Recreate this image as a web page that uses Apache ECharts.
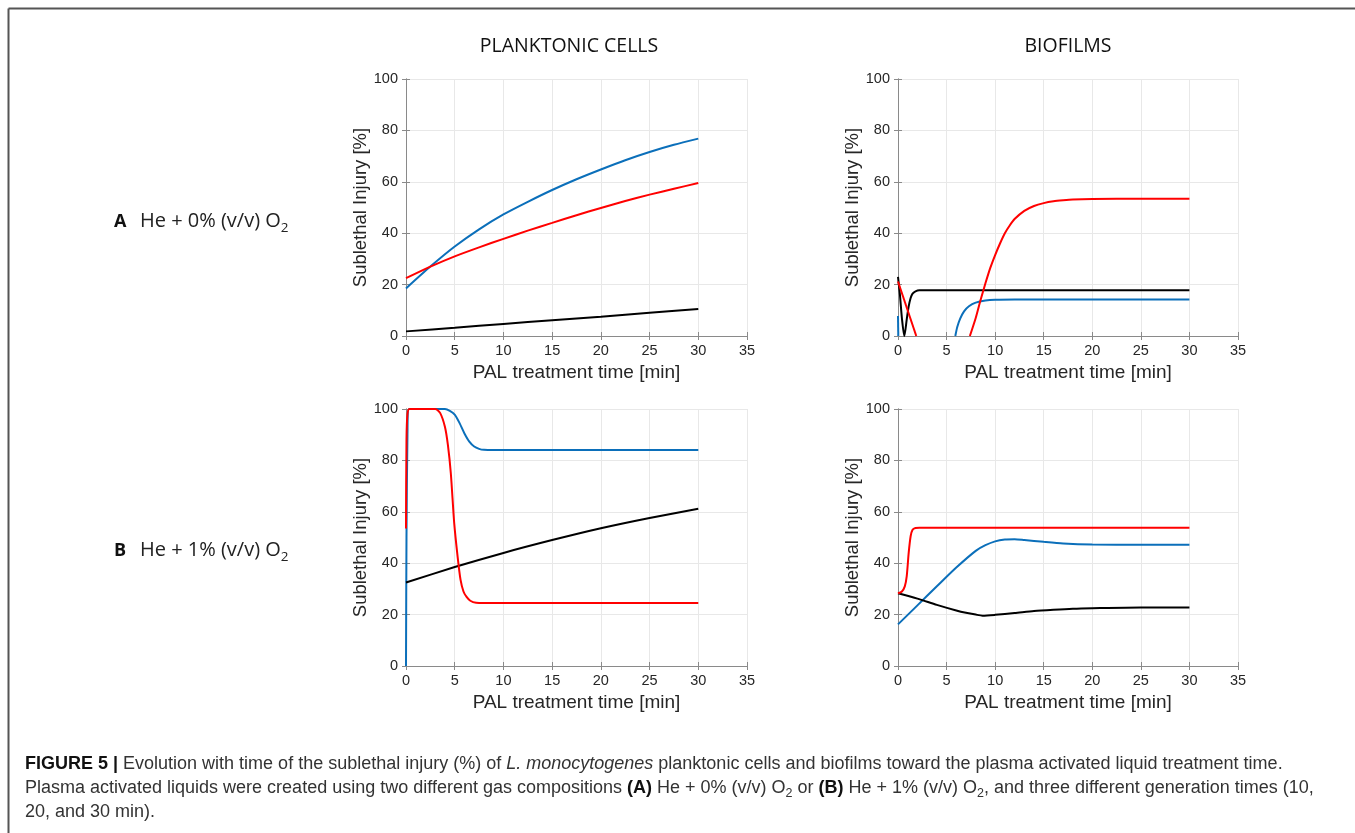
<!DOCTYPE html>
<html>
<head>
<meta charset="utf-8">
<script src="https://cdn.jsdelivr.net/npm/echarts@6.0.0/dist/echarts.min.js"></script>
<style>
  html, body { margin: 0; padding: 0; background: #fff; }
  #chart { width: 1355px; height: 833px; }
</style>
</head>
<body>
<div id="chart"></div>
<script>
// axis ticks
const timeTicks = [0, 5, 10, 15, 20, 25, 30, 35]
const injuryTicks = [0, 20, 40, 60, 80, 100]

// A: He + 0% O2, planktonic cells  ([time, injury])
const tlBlue = [[0, 18.5], [2.5, 27], [5, 34.8], [7.5, 41.5], [10, 47.3], [12.5, 52.2], [15, 56.8], [17.5, 61], [20, 64.8], [22.5, 68.4], [25, 71.6], [27.5, 74.4], [30, 76.8]]
const tlRed = [[0, 22.5], [2.5, 27], [5, 31], [7.5, 34.5], [10, 37.8], [12.5, 41], [15, 44], [17.5, 47], [20, 49.8], [22.5, 52.5], [25, 55], [27.5, 57.3], [30, 59.5]]
const tlBlack = [[0, 1.8], [5, 3.2], [10, 4.7], [15, 6.1], [20, 7.5], [25, 9], [30, 10.5]]

// A: He + 0% O2, biofilms
const trBlueEarly = [[0, 7.8], [0.03, 0]]
const trBlueLate = [[5.9, 0], [6.1, 3.5], [6.4, 6.8], [6.8, 9.6], [7.3, 11.6], [8, 13], [9, 13.8], [10, 14.1], [12, 14.2], [30, 14.2]]
const trRedEarly = [[0, 21.2], [1.88, 0]]
const trRedLate = [[7.4, 0], [8, 7], [8.5, 14], [9, 20.5], [9.5, 26.5], [10, 31.5], [10.5, 36], [11, 40], [11.5, 43], [12, 45.5], [13, 48.7], [14, 50.6], [15, 51.7], [16, 52.4], [17, 52.8], [18, 53.1], [20, 53.3], [25, 53.4], [30, 53.4]]
const trBlack = [[0, 23], [0.2, 16], [0.4, 7], [0.65, 0], [0.9, 6.5], [1.1, 11.5], [1.3, 14.8], [1.5, 16.5], [1.8, 17.4], [2.2, 17.8], [30, 17.8]]

// B: He + 1% O2, planktonic cells
const blBlue = [[0, 0], [0.05, 50], [0.15, 90], [0.3, 100], [4, 100], [4.5, 99.3], [5, 97.8], [5.5, 94.5], [6, 90.5], [6.5, 87.3], [7, 85.4], [7.5, 84.5], [8, 84.1], [9, 84], [30, 84]]
const blRed = [[0, 53.5], [0.05, 88], [0.15, 98], [0.35, 100], [3, 100], [3.5, 98.5], [4, 93], [4.3, 86], [4.6, 75], [4.95, 55.5], [5.3, 42.5], [5.6, 33.5], [5.9, 29], [6.2, 27], [6.6, 25.4], [7.2, 24.6], [8, 24.5], [30, 24.5]]
const blBlack = [[0, 32.5], [5, 38.5], [10, 44], [15, 49], [20, 53.6], [25, 57.6], [30, 61.2]]

// B: He + 1% O2, biofilms
const brBlue = [[0, 16.2], [2, 23.6], [4, 31], [6, 38.3], [8, 44.8], [9, 47], [10, 48.5], [11, 49.2], [12, 49.3], [13, 49], [15, 48.3], [17, 47.7], [20, 47.3], [25, 47.2], [30, 47.2]]
const brRed = [[0, 28.3], [0.4, 29], [0.7, 31], [0.9, 35], [1.1, 44], [1.3, 50.5], [1.5, 53], [1.8, 53.7], [2.2, 53.8], [30, 53.8]]
const brBlack = [[0, 28.3], [2, 26.2], [4, 23.8], [6, 21.6], [7, 20.7], [8, 20], [8.7, 19.6], [10, 19.9], [12, 20.6], [14, 21.4], [16, 21.9], [18, 22.3], [20, 22.5], [25, 22.8], [30, 22.8]]

const BLUE = '#0b6fba'
const RED = '#ff0000'
const BLACK = '#000000'
const AXIS = '#8a8a8a'
const TEXT = '#262626'

const chart = echarts.init(document.getElementById('chart'))

// plot boxes (top-left, top-right, bottom-left, bottom-right)
const grids = [
  { left: 406, top: 79, width: 341, height: 257 },
  { left: 898, top: 79, width: 340, height: 257 },
  { left: 406, top: 409, width: 341, height: 257 },
  { left: 898, top: 409, width: 340, height: 257 }
]

const xAxes = []
const yAxes = []
grids.forEach((g, i) => {
  const step = timeTicks[1] - timeTicks[0]
  xAxes.push({
    type: 'value', gridIndex: i, position: 'bottom',
    min: timeTicks[0], max: timeTicks[timeTicks.length - 1], interval: step,
    name: 'PAL treatment time [min]', nameLocation: 'middle', nameGap: 27,
    nameTextStyle: { color: TEXT, fontSize: 19, fontFamily: 'Liberation Sans' },
    axisLine: { lineStyle: { color: AXIS, width: 1 } },
    axisTick: { inside: true, length: 4, lineStyle: { color: AXIS } },
    axisLabel: { color: TEXT, fontSize: 14.5, margin: 7, fontFamily: 'Liberation Sans' },
    splitLine: { show: true, lineStyle: { color: '#e8e8e8', width: 1 } }
  })
  xAxes.push({
    type: 'value', gridIndex: i, position: 'top',
    min: timeTicks[0], max: timeTicks[timeTicks.length - 1], interval: step,
    axisLine: { lineStyle: { color: AXIS, width: 1 } },
    axisTick: { inside: true, length: 4, lineStyle: { color: AXIS } },
    axisLabel: { show: false },
    splitLine: { show: false }
  })
  const ystep = injuryTicks[1] - injuryTicks[0]
  yAxes.push({
    type: 'value', gridIndex: i, position: 'left',
    min: injuryTicks[0], max: injuryTicks[injuryTicks.length - 1], interval: ystep,
    name: 'Sublethal Injury [%]', nameLocation: 'middle', nameGap: 35,
    nameTextStyle: { color: TEXT, fontSize: 18.5, fontFamily: 'Liberation Sans' },
    axisLine: { show: true, lineStyle: { color: AXIS, width: 1 } },
    axisTick: { show: true, inside: true, length: 4, lineStyle: { color: AXIS } },
    axisLabel: { color: TEXT, fontSize: 14.5, margin: 8, fontFamily: 'Liberation Sans' },
    splitLine: { show: true, lineStyle: { color: '#e8e8e8', width: 1 } }
  })
  yAxes.push({
    type: 'value', gridIndex: i, position: 'right',
    min: injuryTicks[0], max: injuryTicks[injuryTicks.length - 1], interval: ystep,
    axisLine: { show: true, lineStyle: { color: AXIS, width: 1 } },
    axisTick: { show: true, inside: true, length: 4, lineStyle: { color: AXIS } },
    axisLabel: { show: false },
    splitLine: { show: false }
  })
})

const line = (panel, data, color) => ({
  type: 'line',
  xAxisIndex: panel * 2,
  yAxisIndex: panel * 2,
  data,
  showSymbol: false,
  smooth: 0.25,
  lineStyle: { color, width: 2 },
  itemStyle: { color },
  silent: true
})

const series = [
  line(0, tlBlue, BLUE), line(0, tlBlack, BLACK), line(0, tlRed, RED),
  line(1, trBlueEarly, BLUE), line(1, trBlueLate, BLUE), line(1, trBlack, BLACK),
  line(1, trRedEarly, RED), line(1, trRedLate, RED),
  line(2, blBlue, BLUE), line(2, blBlack, BLACK), line(2, blRed, RED),
  line(3, brBlue, BLUE), line(3, brBlack, BLACK), line(3, brRed, RED)
]

const labelFont = 'Open Sans'
const capFont = 'Liberation Sans'

// row label: bold panel letter, then gas composition with subscript 2
const rowLabel = (letter, text, y) => [
  { type: 'text', x: 114, y, style: { text: letter, fontFamily: labelFont, fontSize: 18, fontWeight: 'bold', fill: '#111', verticalAlign: 'middle' } },
  {
    type: 'text', x: 140, y: y - 14,
    style: {
      text: `{t|${text}}{s|2}`,
      rich: {
        t: { fontFamily: labelFont, fontSize: 20, fill: '#222', lineHeight: 27 },
        s: { fontFamily: labelFont, fontSize: 13.5, fill: '#222', lineHeight: 13, verticalAlign: 'bottom' }
      }
    }
  }
]

const caption = [
  '{b|FIGURE 5 |} Evolution with time of the sublethal injury (%) of {i|L. monocytogenes} planktonic cells and biofilms toward the plasma activated liquid treatment time.',
  'Plasma activated liquids were created using two different gas compositions {b|(A)} He + 0% (v/v) O{s|2} or {b|(B)} He + 1% (v/v) O{s|2}, and three different generation times (10,',
  '20, and 30 min).'
].join('\n')

const option = {
  animation: false,
  backgroundColor: '#ffffff',
  grid: grids.map(g => ({ ...g, containLabel: false })),
  xAxis: xAxes,
  yAxis: yAxes,
  series,
  graphic: [
    // figure frame (top and left edges)
    { type: 'line', shape: { x1: 8.5, y1: 8.5, x2: 1355, y2: 8.5 }, style: { stroke: '#555', lineWidth: 2 } },
    { type: 'line', shape: { x1: 8.5, y1: 8.5, x2: 8.5, y2: 833 }, style: { stroke: '#555', lineWidth: 2 } },
    { type: 'text', x: 569, y: 46, style: { text: 'PLANKTONIC CELLS', fontFamily: labelFont, fontSize: 19.5, fill: '#111', align: 'center', verticalAlign: 'middle' } },
    { type: 'text', x: 1068, y: 46, style: { text: 'BIOFILMS', fontFamily: labelFont, fontSize: 19.5, fill: '#111', align: 'center', verticalAlign: 'middle' } },
    ...rowLabel('A', 'He + 0% (v/v) O', 222),
    ...rowLabel('B', 'He + 1% (v/v) O', 551),
    {
      type: 'text', x: 25, y: 752,
      style: {
        text: caption,
        fontFamily: capFont, fontSize: 18, fill: '#333', lineHeight: 24,
        rich: {
          b: { fontFamily: capFont, fontSize: 18, fontWeight: 'bold', fill: '#111', lineHeight: 24 },
          i: { fontFamily: capFont, fontSize: 18, fontStyle: 'italic', fill: '#333', lineHeight: 24 },
          s: { fontFamily: capFont, fontSize: 12.5, fill: '#333', lineHeight: 12, verticalAlign: 'bottom' }
        }
      }
    }
  ]
}

chart.setOption(option)
</script>
</body>
</html>
